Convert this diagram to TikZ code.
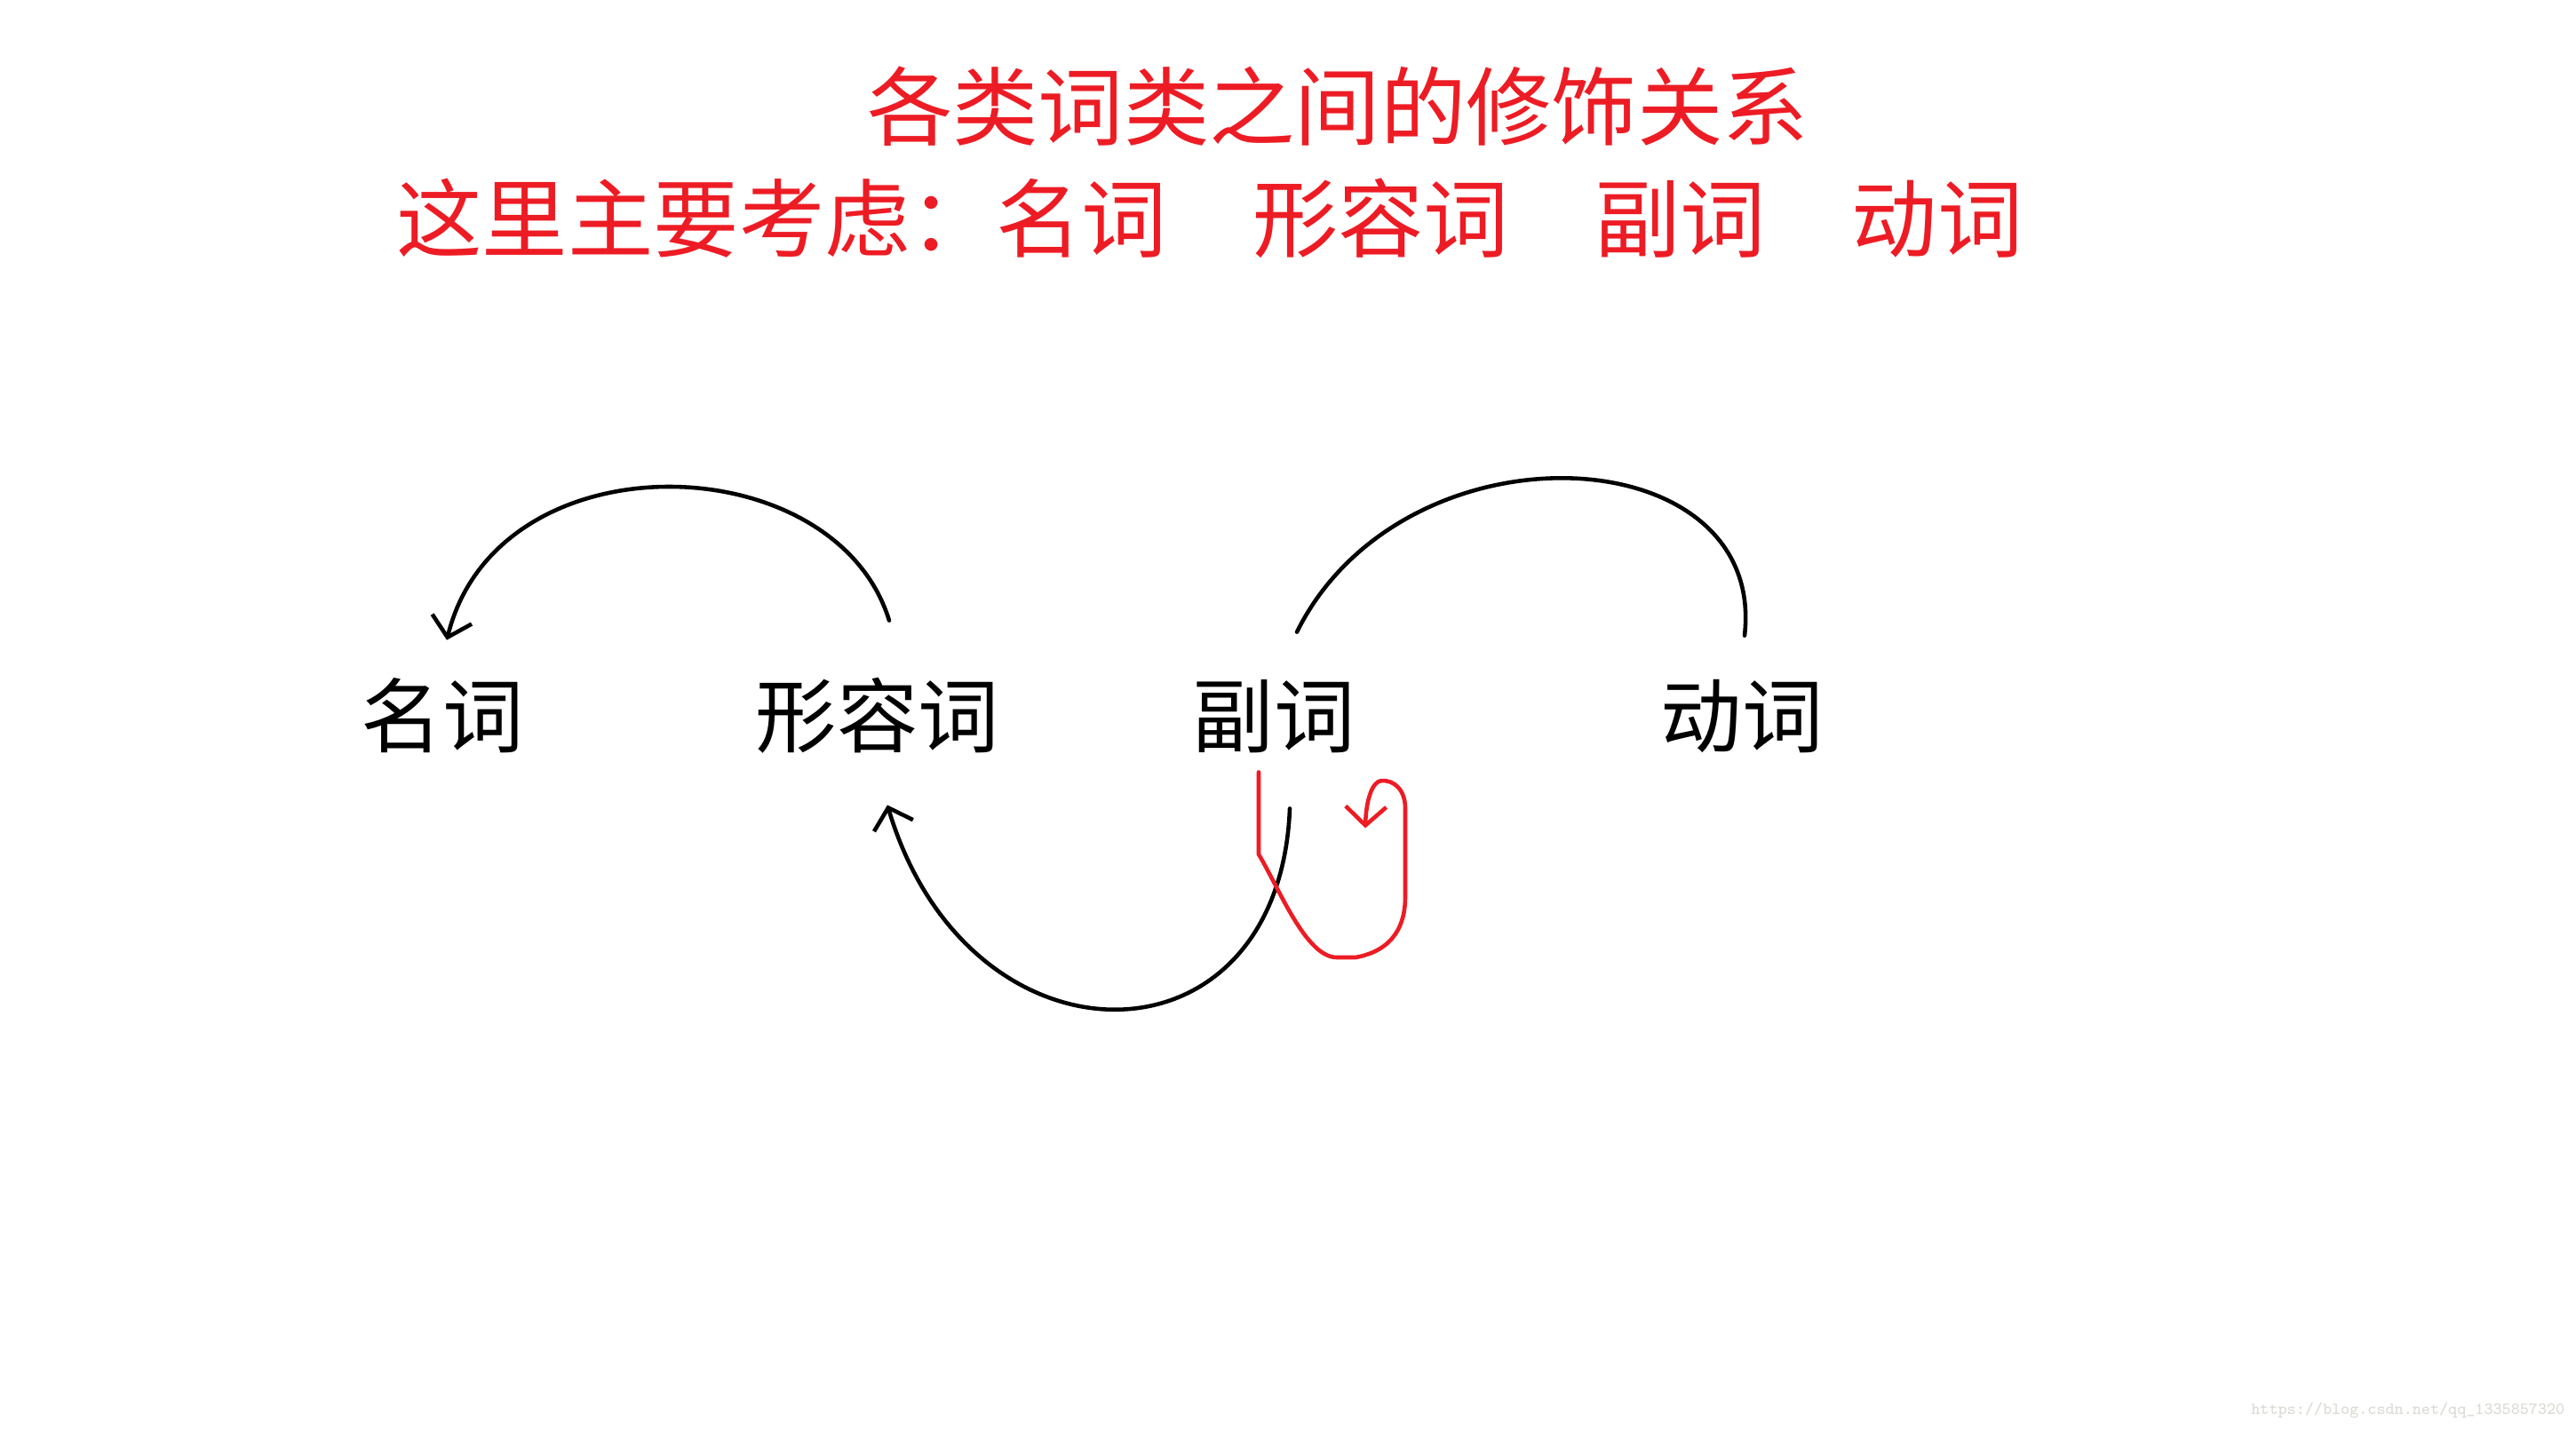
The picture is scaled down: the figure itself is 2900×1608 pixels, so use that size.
\documentclass[tikz,border=0pt]{standalone}
\usepackage{fontspec}
\usepackage{tikz}
\usetikzlibrary{arrows.meta}
\newfontfamily\cjk{Noto Sans CJK SC}
\definecolor{paintred}{RGB}{237,28,36}
\definecolor{markgray}{RGB}{218,218,212}

\begin{document}
\begin{tikzpicture}[x=0.01cm,y=-0.01cm,
	word/.style={font=\cjk\fontsize{26}{26}\selectfont, inner sep=0pt, text height=22pt, text depth=4pt},
	headline/.style={font=\cjk\fontsize{27.4}{27.4}\selectfont, text=paintred, inner sep=0pt},
	hand/.style={line width=1.3pt, line join=round, line cap=round},
	tip/.style={-{Straight Barb[length=6pt,width=13pt]}}]

	\useasboundingbox (0,0) rectangle (2900,1608);
	\fill[white] (0,0) rectangle (2900,1608);

	\node[headline] (title) at (1506,120) {各类词类之间的修饰关系};
	\node[headline] (subtitle) at (1362,246) {这里主要考虑：名词　形容词　副词　动词};

	\node[word] (mingci) at (498,809) {名词};
	\node[word] (xingrongci) at (988,809) {形容词};
	\node[word] (fuci) at (1434,809) {副词};
	\node[word] (dongci) at (1961,809) {动词};

	\draw[hand, tip] ([shift={(13,-64)}]xingrongci.north) .. controls (940,500) and (560,490) .. ([shift={(5,-42)}]mingci.north);
	\draw[hand] ([shift={(26,-51)}]fuci.north) .. controls (1580,470) and (1990,490) .. ([shift={(3,-47)}]dongci.north);
	\draw[hand, tip] ([shift={(18,55)}]fuci.south) .. controls (1440,1212) and (1090,1212) .. ([shift={(11,51)}]xingrongci.south);

	\draw[hand, tip, paintred] ([shift={(-17,14)}]fuci.south) -- (1417,962)
		.. controls (1440,1000) and (1470,1078) .. (1505,1078) -- (1526,1078)
		.. controls (1570,1070) and (1582,1040) .. (1582,1010) -- (1582,910)
		.. controls (1582,890) and (1570,878) .. (1555,879)
		.. controls (1545,880) and (1538,900) .. ([shift={(103,77)}]fuci.south);

	\node[font=\ttfamily\fontsize{5.4}{6}\selectfont, text=markgray, anchor=east, inner sep=0pt] (watermark) at (2888,1588) {https://blog.csdn.net/qq\_1335857320};

\end{tikzpicture}
\end{document}
